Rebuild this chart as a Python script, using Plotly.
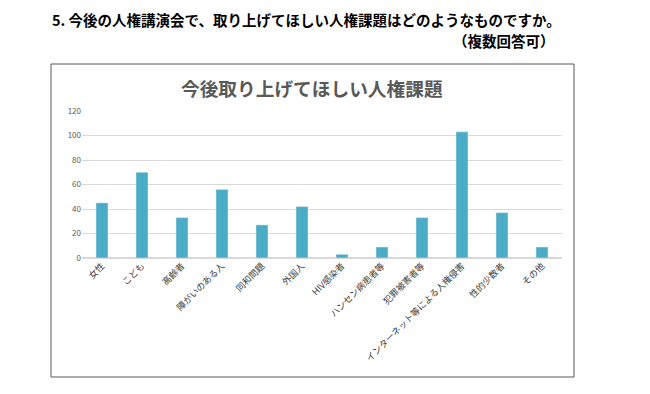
import plotly.graph_objects as go

categories = ["女性", "こども", "高齢者", "障がいのある人", "同和問題", "外国人", "HIV感染者",
              "ハンセン病患者等", "犯罪被害者等", "インターネット等による人権侵害", "性的少数者", "その他"]
values = [45, 70, 33, 56, 27, 42, 3, 9, 33, 103, 37, 9]
y_ticks = [0, 20, 40, 60, 80, 100, 120]

W, H = 650, 394
OFF = 8
def px(x): return (x - OFF) / W
def py(y): return 1 - (y - OFF) / H

FONT = "Noto Sans CJK JP"

fig = go.Figure(go.Bar(x=categories, y=values, marker_color="#4bacc6", width=0.3))

fig.update_layout(
    width=W, height=H,
    margin=dict(l=0, r=0, t=0, b=0),
    paper_bgcolor="white", plot_bgcolor="white",
    showlegend=False,
    font=dict(family=FONT, color="#595959"),
    xaxis=dict(domain=[px(82), px(562)], tickangle=-45, tickfont=dict(size=9, color="#404040"),
               showgrid=False, ticks="", showline=False, automargin=False),
    yaxis=dict(domain=[py(258), py(111)], range=[0, 120], tickvals=y_ticks,
               tickfont=dict(size=8, color="#595959"), gridcolor="#d9d9d9", gridwidth=1,
               zeroline=True, zerolinecolor="#d9d9d9", showline=False, ticks="", automargin=False),
    shapes=[dict(type="rect", xref="paper", yref="paper", x0=px(51), x1=px(574), y0=py(377), y1=py(64),
                 line=dict(color="#595959", width=1))],
    annotations=[
        dict(text="<b>5. 今後の人権講演会で、取り上げてほしい人権課題はどのようなものですか。</b>",
             xref="paper", yref="paper", x=px(50), y=py(20), xanchor="left", yanchor="middle",
             showarrow=False, font=dict(size=14.5, color="black", family=FONT)),
        dict(text="<b>（複数回答可）</b>",
             xref="paper", yref="paper", x=px(557), y=py(41), xanchor="right", yanchor="middle",
             showarrow=False, font=dict(size=14.5, color="black", family=FONT)),
        dict(text="<b>今後取り上げてほしい人権課題</b>",
             xref="paper", yref="paper", x=px(312), y=py(87), xanchor="center", yanchor="middle",
             showarrow=False, font=dict(size=18.7, color="#595959", family=FONT)),
    ],
)

fig.write_html("out.html")
